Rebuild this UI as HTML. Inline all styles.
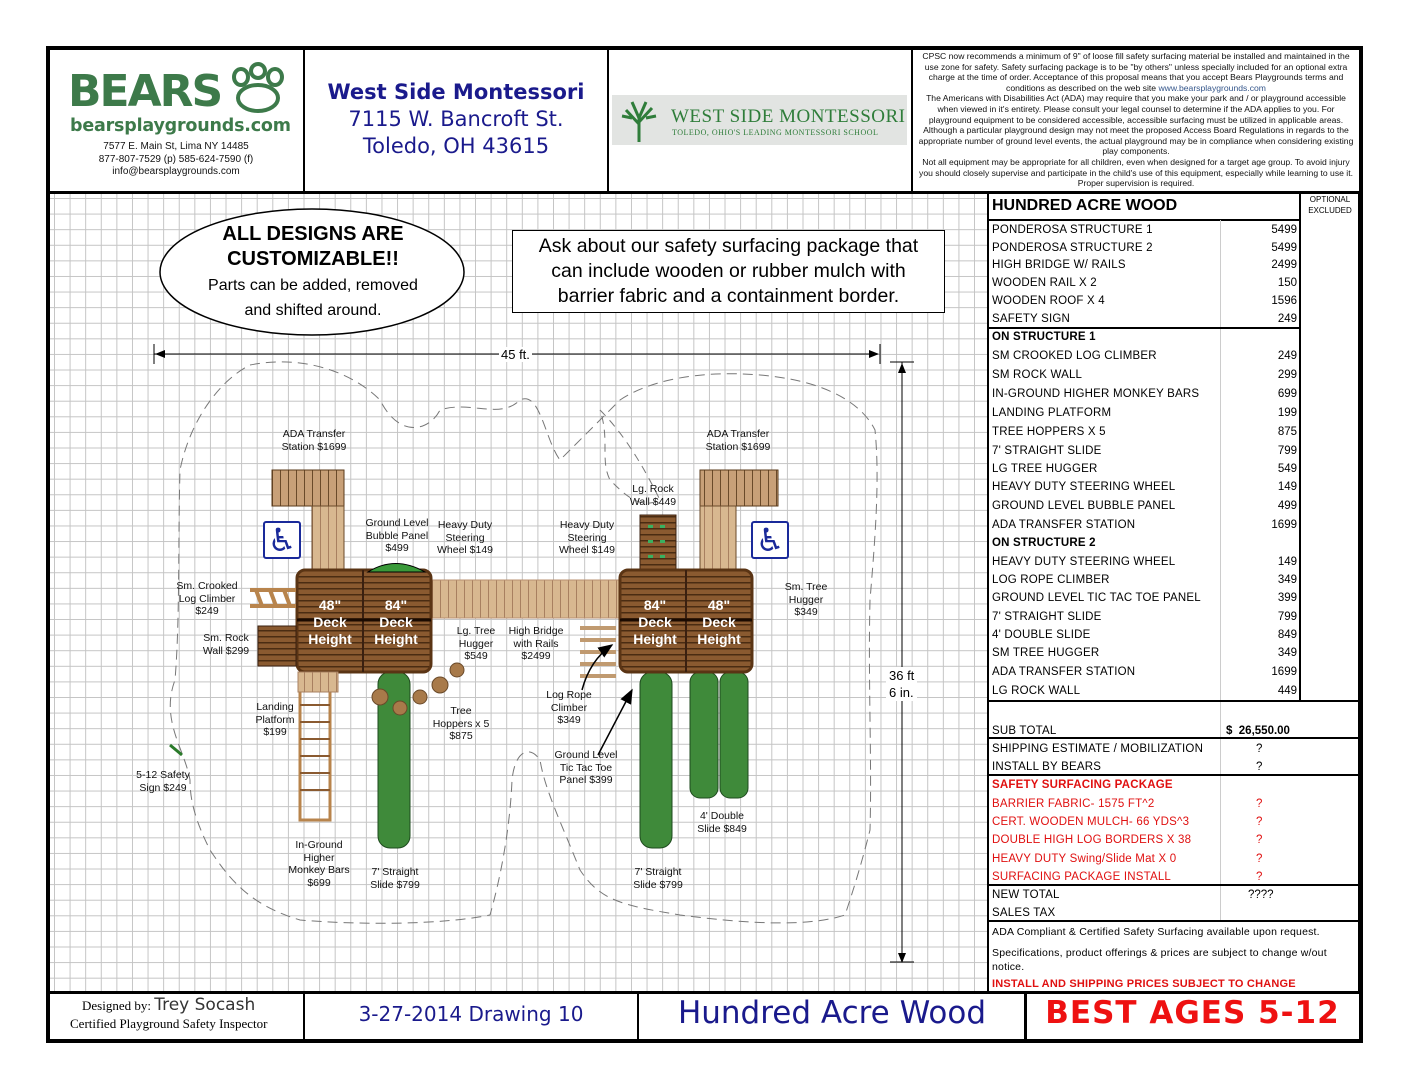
<!DOCTYPE html>
<html><head><meta charset="utf-8">
<style>
*{margin:0;padding:0;box-sizing:border-box}
body{width:1408px;height:1088px;background:#fff;position:relative;overflow:hidden;font-family:"Liberation Sans",sans-serif}
.a{position:absolute;white-space:nowrap}
.grid{position:absolute;left:50px;top:194px;width:938px;height:798px;
background-image:linear-gradient(to right,#c4c4c4 1px,transparent 1px),linear-gradient(to bottom,#c4c4c4 1px,transparent 1px);
background-size:15.6px 15.6px;background-position:4px 4px}
.ln{position:absolute;background:#000}
.lbl{position:absolute;font-size:10.5px;line-height:12.5px;text-align:center;color:#111;white-space:nowrap;transform:translateX(-50%)}
.tr{position:absolute;left:992px;font-size:11.5px;letter-spacing:.2px;color:#000;white-space:nowrap;margin-top:2px}
.tn{position:absolute;right:111px;font-size:11.5px;text-align:right;margin-top:2px}
.q{position:absolute;left:1256px;font-size:11.5px;margin-top:2px}
.red{color:#e01010}
.cs{font-family:"Comic Sans MS","DejaVu Sans",sans-serif}
</style></head><body>
<div class="grid"></div>
<div class="a" style="left:988px;top:194px;width:372px;height:798px;background:#fff"></div>
<div class="a" style="left:46px;top:46px;width:1317px;height:997px;border:4px solid #000"></div>
<div class="ln" style="left:48px;top:191px;width:1313px;height:3px"></div>
<div class="ln" style="left:303px;top:48px;width:2px;height:144px"></div>
<div class="ln" style="left:607px;top:48px;width:2px;height:144px"></div>
<div class="ln" style="left:911px;top:48px;width:2px;height:144px"></div>
<div class="ln" style="left:48px;top:991px;width:1313px;height:3px"></div>
<div class="ln" style="left:303px;top:992px;width:2px;height:48px"></div>
<div class="ln" style="left:637px;top:992px;width:2px;height:48px"></div>
<div class="ln" style="left:1024px;top:992px;width:3px;height:48px"></div>
<div class="ln" style="left:987px;top:192px;width:2px;height:800px"></div>

<!-- header -->
<div class="a" style="left:68px;top:64px;font-family:'DejaVu Sans',sans-serif;font-weight:bold;font-size:44px;color:#3d7a4a;letter-spacing:-2px;line-height:56px">BEARS</div>
<svg class="a" style="left:228px;top:62px" width="60" height="54" viewBox="0 0 60 54"><g fill="none" stroke="#3d7a4a" stroke-width="4"><ellipse cx="30" cy="36" rx="20" ry="13"/><ellipse cx="13" cy="15" rx="7" ry="8"/><ellipse cx="30" cy="9" rx="7" ry="7"/><ellipse cx="47" cy="15" rx="7" ry="8"/></g></svg>
<div class="a" style="left:70px;top:116px;font-weight:bold;font-size:17.5px;color:#3d7a4a;font-family:'DejaVu Sans',sans-serif;letter-spacing:-0.2px">bearsplaygrounds.com</div>
<div class="a" style="left:50px;width:252px;top:141px;font-size:10px;line-height:12.5px;text-align:center;color:#111">7577 E. Main St, Lima NY 14485<br>877-807-7529 (p) 585-624-7590 (f)<br>info@bearsplaygrounds.com</div>
<div class="a cs" style="left:305px;width:302px;top:79px;text-align:center;color:#1a1a8c;font-size:21px;line-height:27px"><b>West Side Montessori</b><br>7115 W. Bancroft St.<br>Toledo, OH 43615</div>
<div class="a" style="left:612px;top:95px;width:295px;height:50px;background:#e2e4e2"></div>
<svg class="a" style="left:614px;top:96px" width="50" height="48"><g stroke="#2f7d3a" stroke-width="3" fill="none"><path d="M25 46 V20 M25 28 L12 14 M25 26 L38 12 M25 22 L18 6 M25 22 L32 6 M8 20 L18 22 M42 20 L32 22"/></g></svg>
<div class="a" style="left:671px;top:106px;font-family:'Liberation Serif',serif;font-size:19px;color:#2f7d3a;letter-spacing:.5px">WEST SIDE MONTESSORI</div>
<div class="a" style="left:672px;top:128px;font-family:'Liberation Serif',serif;font-size:8px;color:#2f7d3a;letter-spacing:.5px">TOLEDO, OHIO'S LEADING MONTESSORI SCHOOL</div>
<div class="a" style="left:918px;width:436px;top:51px;font-size:8.6px;line-height:10.6px;text-align:center;white-space:normal;color:#111">CPSC now recommends a minimum of 9" of loose fill safety surfacing material be installed and maintained in the use zone for safety. Safety surfacing package is to be "by others" unless specially included for an optional extra charge at the time of order. Acceptance of this proposal means that you accept Bears Playgrounds terms and conditions as described on the web site <span style="color:#33558a">www.bearsplaygrounds.com</span><br>The Americans with Disabilities Act (ADA) may require that you make your park and / or playground accessible when viewed in it's entirety. Please consult your legal counsel to determine if the ADA applies to you. For playground equipment to be considered accessible, accessible surfacing must be utilized in applicable areas. Although a particular playground design may not meet the proposed Access Board Regulations in regards to the appropriate number of ground level events, the actual playground may be in compliance when considering existing play components.<br>Not all equipment may be appropriate for all children, even when designed for a target age group. To avoid injury you should closely supervise and participate in the child's use of this equipment, especially while learning to use it. Proper supervision is required.</div>

<!-- drawing -->
<svg class="a" style="left:0;top:0" width="988" height="992">
<defs>
<pattern id="dk" width="6" height="6" patternUnits="userSpaceOnUse"><rect width="6" height="6" fill="#8a5a30"/><rect width="6" height="1.5" fill="#4a2c12"/></pattern>
<pattern id="lt" width="8" height="8" patternUnits="userSpaceOnUse"><rect width="8" height="8" fill="#d8b890"/><rect width="1" height="8" fill="#a88060"/></pattern>
<pattern id="rf" width="8" height="8" patternUnits="userSpaceOnUse"><rect width="8" height="8" fill="#c8a078"/><rect width="1" height="8" fill="#6a4a2a"/></pattern>
<marker id="ar" markerWidth="10" markerHeight="8" refX="9" refY="4" orient="auto"><path d="M0,0 L10,4 L0,8 z" fill="#000"/></marker>
</defs>
<path d="M250,365 C300,355 350,370 380,400 C400,440 430,430 440,410 C470,400 500,420 520,400 C540,390 545,440 560,460 C580,440 600,420 620,400 C650,380 700,370 760,375 C820,380 860,400 875,430 C880,480 875,540 870,600 C868,680 872,760 870,830 C860,870 850,900 845,915 C800,930 720,920 680,915 C620,905 600,900 580,870 C560,820 545,790 540,760 C530,745 515,750 512,780 C510,830 500,880 490,915 C440,925 360,925 300,920 C250,905 230,880 210,850 C195,820 190,800 190,780 C185,750 160,720 175,680 C180,620 178,540 180,470 C190,420 220,380 250,365 Z" fill="none" stroke="#777" stroke-width="1" stroke-dasharray="10,6"/>
<path d="M600,410 C630,440 650,480 660,500 C640,510 625,495 610,480 C600,460 610,440 600,410" fill="none" stroke="#777" stroke-dasharray="8,6"/>
<line x1="154" y1="354" x2="878" y2="354" stroke="#000" stroke-width="1" marker-end="url(#ar)"/>
<line x1="878" y1="354" x2="156" y2="354" stroke="#000" stroke-width="1" marker-end="url(#ar)"/>
<line x1="154" y1="344" x2="154" y2="364" stroke="#000"/><line x1="880" y1="344" x2="880" y2="364" stroke="#000"/>
<line x1="902" y1="362" x2="902" y2="962" stroke="#000" marker-end="url(#ar)"/>
<line x1="902" y1="962" x2="902" y2="364" stroke="#000" marker-end="url(#ar)"/>
<line x1="890" y1="362" x2="914" y2="362" stroke="#000"/><line x1="890" y1="962" x2="914" y2="962" stroke="#000"/>
<rect x="272" y="470" width="72" height="36" fill="url(#rf)" stroke="#5a3a1a"/>
<rect x="312" y="506" width="32" height="64" fill="url(#lt)" stroke="#6a4a2a"/>
<rect x="700" y="470" width="78" height="36" fill="url(#rf)" stroke="#5a3a1a"/>
<rect x="700" y="506" width="36" height="64" fill="url(#lt)" stroke="#6a4a2a"/>
<rect x="640" y="515" width="36" height="56" fill="url(#dk)" stroke="#3a2010"/>
<g fill="#3ab060"><rect x="648" y="525" width="5" height="3"/><rect x="660" y="525" width="5" height="3"/><rect x="648" y="540" width="5" height="3"/><rect x="660" y="540" width="5" height="3"/><rect x="648" y="555" width="5" height="3"/><rect x="660" y="555" width="5" height="3"/></g>
<rect x="378" y="672" width="32" height="176" rx="12" fill="#3f8a3a" stroke="#1e4a1e"/>
<rect x="640" y="672" width="32" height="176" rx="12" fill="#3f8a3a" stroke="#1e4a1e"/>
<rect x="690" y="672" width="28" height="126" rx="10" fill="#3f8a3a" stroke="#1e4a1e"/>
<rect x="720" y="672" width="28" height="126" rx="10" fill="#3f8a3a" stroke="#1e4a1e"/>
<rect x="430" y="580" width="192" height="38" fill="url(#lt)" stroke="#b89070"/>
<rect x="297" y="570" width="134" height="102" rx="8" fill="url(#dk)" stroke="#5a3414" stroke-width="3"/>
<line x1="363" y1="570" x2="363" y2="672" stroke="#3a2010" stroke-width="2"/>
<line x1="297" y1="620" x2="431" y2="620" stroke="#1a0a00" stroke-width="3"/>
<rect x="620" y="570" width="132" height="102" rx="8" fill="url(#dk)" stroke="#5a3414" stroke-width="3"/>
<line x1="686" y1="570" x2="686" y2="672" stroke="#3a2010" stroke-width="2"/>
<line x1="620" y1="620" x2="752" y2="620" stroke="#1a0a00" stroke-width="3"/>
<path d="M368,572 Q395,555 425,572 Z" fill="#3a9a3a" stroke="#000"/>
<rect x="258" y="626" width="38" height="40" fill="url(#dk)" stroke="#3a2010"/>
<path d="M250,590 L296,590 M250,606 L296,606 M256,590 L262,606 M270,590 L276,606 M284,590 L290,606" stroke="#b8844c" stroke-width="4" fill="none"/>
<g stroke="#c09a70" stroke-width="4"><line x1="580" y1="628" x2="616" y2="628"/><line x1="580" y1="640" x2="616" y2="640"/><line x1="580" y1="652" x2="616" y2="652"/><line x1="580" y1="664" x2="616" y2="664"/><line x1="580" y1="676" x2="616" y2="676"/></g>
<rect x="300" y="690" width="30" height="130" fill="none" stroke="#b8844c" stroke-width="3"/>
<g stroke="#8a5a30" stroke-width="2"><line x1="300" y1="705" x2="330" y2="705"/><line x1="300" y1="722" x2="330" y2="722"/><line x1="300" y1="739" x2="330" y2="739"/><line x1="300" y1="756" x2="330" y2="756"/><line x1="300" y1="773" x2="330" y2="773"/><line x1="300" y1="790" x2="330" y2="790"/></g>
<rect x="298" y="672" width="40" height="20" fill="url(#lt)" stroke="#a88060"/>
<g fill="#a87a4a" stroke="#6a4a2a"><circle cx="380" cy="697" r="8"/><circle cx="420" cy="697" r="7"/><circle cx="440" cy="685" r="8"/><circle cx="457" cy="670" r="7"/><circle cx="400" cy="708" r="7"/></g>
<path d="M582,690 Q590,660 612,645" fill="none" stroke="#000" stroke-width="1.5" marker-end="url(#ar)"/>
<path d="M598,755 L632,690" fill="none" stroke="#000" stroke-width="1.5" marker-end="url(#ar)"/>
<line x1="170" y1="745" x2="182" y2="755" stroke="#2a7a2a" stroke-width="3"/>
</svg>
<div class="a" style="left:263px;top:521px;width:38px;height:38px;border:2px solid #1a2a9a;border-radius:3px;background:#fff;color:#1a2a9a;font-size:32px;line-height:34px;text-align:center;font-family:'DejaVu Sans',sans-serif">♿</div>
<div class="a" style="left:751px;top:521px;width:38px;height:38px;border:2px solid #1a2a9a;border-radius:3px;background:#fff;color:#1a2a9a;font-size:32px;line-height:34px;text-align:center;font-family:'DejaVu Sans',sans-serif">♿</div>
<div class="a" style="left:297px;width:66px;top:597px;text-align:center;color:#fff;font-weight:bold;font-size:14px;line-height:17px">48"<br>Deck<br>Height</div>
<div class="a" style="left:363px;width:66px;top:597px;text-align:center;color:#fff;font-weight:bold;font-size:14px;line-height:17px">84"<br>Deck<br>Height</div>
<div class="a" style="left:622px;width:66px;top:597px;text-align:center;color:#fff;font-weight:bold;font-size:14px;line-height:17px">84"<br>Deck<br>Height</div>
<div class="a" style="left:686px;width:66px;top:597px;text-align:center;color:#fff;font-weight:bold;font-size:14px;line-height:17px">48"<br>Deck<br>Height</div>

<svg class="a" style="left:158px;top:207px" width="310" height="132"><ellipse cx="154" cy="65" rx="152" ry="63" fill="#fff" stroke="#000" stroke-width="1.5"/></svg>
<div class="a" style="left:160px;width:306px;top:222px;text-align:center;font-size:20px;line-height:25px;font-weight:bold">ALL DESIGNS ARE<br>CUSTOMIZABLE!!</div>
<div class="a" style="left:160px;width:306px;top:273px;text-align:center;font-size:16px;line-height:25px">Parts can be added, removed<br>and shifted around.</div>
<div class="a" style="left:512px;top:230px;width:433px;height:83px;border:1.5px solid #000;background:#fff;text-align:center;font-size:19.5px;line-height:25px;padding-top:3px">Ask about our safety surfacing package that<br>can include wooden or rubber mulch with<br>barrier fabric and a containment border.</div>
<div class="a" style="left:499px;top:347px;background:#fff;font-size:13px;padding:0 2px">45 ft.</div>
<div class="a" style="left:886px;top:667px;background:#fff;font-size:13px;line-height:17px;padding:0 3px">36 ft<br>6 in.</div>

<div class="lbl" style="left:314px;top:428px">ADA Transfer<br>Station $1699</div>
<div class="lbl" style="left:738px;top:428px">ADA Transfer<br>Station $1699</div>
<div class="lbl" style="left:653px;top:483px">Lg. Rock<br>Wall $449</div>
<div class="lbl" style="left:397px;top:517px">Ground Level<br>Bubble Panel<br>$499</div>
<div class="lbl" style="left:465px;top:519px">Heavy Duty<br>Steering<br>Wheel $149</div>
<div class="lbl" style="left:587px;top:519px">Heavy Duty<br>Steering<br>Wheel $149</div>
<div class="lbl" style="left:207px;top:580px">Sm. Crooked<br>Log Climber<br>$249</div>
<div class="lbl" style="left:806px;top:581px">Sm. Tree<br>Hugger<br>$349</div>
<div class="lbl" style="left:226px;top:632px">Sm. Rock<br>Wall $299</div>
<div class="lbl" style="left:476px;top:625px">Lg. Tree<br>Hugger<br>$549</div>
<div class="lbl" style="left:536px;top:625px">High Bridge<br>with Rails<br>$2499</div>
<div class="lbl" style="left:569px;top:689px">Log Rope<br>Climber<br>$349</div>
<div class="lbl" style="left:275px;top:701px">Landing<br>Platform<br>$199</div>
<div class="lbl" style="left:461px;top:705px">Tree<br>Hoppers x 5<br>$875</div>
<div class="lbl" style="left:586px;top:749px">Ground Level<br>Tic Tac Toe<br>Panel $399</div>
<div class="lbl" style="left:163px;top:769px">5-12 Safety<br>Sign $249</div>
<div class="lbl" style="left:722px;top:810px">4' Double<br>Slide $849</div>
<div class="lbl" style="left:319px;top:839px">In-Ground<br>Higher<br>Monkey Bars<br>$699</div>
<div class="lbl" style="left:395px;top:866px">7' Straight<br>Slide $799</div>
<div class="lbl" style="left:658px;top:866px">7' Straight<br>Slide $799</div>

<div class="ln" style="left:988px;top:219px;width:312px;height:2px"></div>
<div class="ln" style="left:1299px;top:192px;width:2px;height:510px"></div>
<div class="ln" style="left:1358px;top:192px;width:2px;height:800px"></div>
<div class="a" style="left:1220px;top:220px;width:1px;height:556px;background:#ccc"></div>
<div class="a" style="left:1220px;top:776px;width:1px;height:146px;background:#ccc"></div>
<div class="ln" style="left:988px;top:327px;width:312px;height:2px"></div>
<div class="ln" style="left:988px;top:700px;width:372px;height:2px"></div>
<div class="ln" style="left:988px;top:737px;width:372px;height:2px"></div>
<div class="ln" style="left:988px;top:774px;width:372px;height:2px"></div>
<div class="ln" style="left:988px;top:884px;width:372px;height:2px"></div>
<div class="ln" style="left:988px;top:920px;width:372px;height:2px"></div>
<div class="a" style="left:992px;top:197px;font-size:16px;font-weight:bold">HUNDRED ACRE WOOD</div>
<div class="a" style="left:1302px;width:56px;top:194px;font-size:8px;line-height:11px;text-align:center">OPTIONAL<br>EXCLUDED</div>

<div class="tr" style="top:222px">PONDEROSA STRUCTURE 1</div><div class="tn" style="top:222px">5499</div>
<div class="tr" style="top:240px">PONDEROSA STRUCTURE 2</div><div class="tn" style="top:240px">5499</div>
<div class="tr" style="top:257px">HIGH BRIDGE W/ RAILS</div><div class="tn" style="top:257px">2499</div>
<div class="tr" style="top:275px">WOODEN RAIL X 2</div><div class="tn" style="top:275px">150</div>
<div class="tr" style="top:293px">WOODEN ROOF X 4</div><div class="tn" style="top:293px">1596</div>
<div class="tr" style="top:311px">SAFETY SIGN</div><div class="tn" style="top:311px">249</div>
<div class="tr" style="top:329px;font-weight:bold">ON STRUCTURE 1</div>
<div class="tr" style="top:348px">SM CROOKED LOG CLIMBER</div><div class="tn" style="top:348px">249</div>
<div class="tr" style="top:367px">SM ROCK WALL</div><div class="tn" style="top:367px">299</div>
<div class="tr" style="top:386px">IN-GROUND HIGHER MONKEY BARS</div><div class="tn" style="top:386px">699</div>
<div class="tr" style="top:405px">LANDING PLATFORM</div><div class="tn" style="top:405px">199</div>
<div class="tr" style="top:424px">TREE HOPPERS X 5</div><div class="tn" style="top:424px">875</div>
<div class="tr" style="top:443px">7' STRAIGHT SLIDE</div><div class="tn" style="top:443px">799</div>
<div class="tr" style="top:461px">LG TREE HUGGER</div><div class="tn" style="top:461px">549</div>
<div class="tr" style="top:479px">HEAVY DUTY STEERING WHEEL</div><div class="tn" style="top:479px">149</div>
<div class="tr" style="top:498px">GROUND LEVEL BUBBLE PANEL</div><div class="tn" style="top:498px">499</div>
<div class="tr" style="top:517px">ADA TRANSFER STATION</div><div class="tn" style="top:517px">1699</div>
<div class="tr" style="top:535px;font-weight:bold">ON STRUCTURE 2</div>
<div class="tr" style="top:554px">HEAVY DUTY STEERING WHEEL</div><div class="tn" style="top:554px">149</div>
<div class="tr" style="top:572px">LOG ROPE CLIMBER</div><div class="tn" style="top:572px">349</div>
<div class="tr" style="top:590px">GROUND LEVEL TIC TAC TOE PANEL</div><div class="tn" style="top:590px">399</div>
<div class="tr" style="top:609px">7' STRAIGHT SLIDE</div><div class="tn" style="top:609px">799</div>
<div class="tr" style="top:627px">4' DOUBLE SLIDE</div><div class="tn" style="top:627px">849</div>
<div class="tr" style="top:645px">SM TREE HUGGER</div><div class="tn" style="top:645px">349</div>
<div class="tr" style="top:664px">ADA TRANSFER STATION</div><div class="tn" style="top:664px">1699</div>
<div class="tr" style="top:683px">LG ROCK WALL</div><div class="tn" style="top:683px">449</div>
<div class="tr" style="top:723px">SUB TOTAL</div><div class="a" style="left:1226px;top:725px;font-size:11.5px;font-weight:bold">$&nbsp; 26,550.00</div>
<div class="tr" style="top:741px">SHIPPING ESTIMATE / MOBILIZATION</div><div class="q" style="top:741px">?</div>
<div class="tr" style="top:759px">INSTALL BY BEARS</div><div class="q" style="top:759px">?</div>
<div class="tr red" style="top:777px;font-weight:bold">SAFETY SURFACING PACKAGE</div>
<div class="tr red" style="top:796px">BARRIER FABRIC- 1575 FT^2</div><div class="q red" style="top:796px">?</div>
<div class="tr red" style="top:814px">CERT. WOODEN MULCH- 66 YDS^3</div><div class="q red" style="top:814px">?</div>
<div class="tr red" style="top:832px">DOUBLE HIGH LOG BORDERS X 38</div><div class="q red" style="top:832px">?</div>
<div class="tr red" style="top:851px">HEAVY DUTY Swing/Slide Mat X 0</div><div class="q red" style="top:851px">?</div>
<div class="tr red" style="top:869px">SURFACING PACKAGE INSTALL</div><div class="q red" style="top:869px">?</div>
<div class="tr" style="top:887px">NEW TOTAL</div><div class="a" style="left:1248px;top:889px;font-size:11.5px">????</div>
<div class="tr" style="top:905px">SALES TAX</div>
<div class="tr" style="top:924px;font-size:10.5px">ADA Compliant &amp; Certified Safety Surfacing available upon request.</div>
<div class="tr" style="top:944px;font-size:10.5px;line-height:14px;white-space:normal;width:364px">Specifications, product offerings &amp; prices are subject to change w/out notice.</div>
<div class="tr red" style="top:976px;font-size:11px;font-weight:bold">INSTALL AND SHIPPING PRICES SUBJECT TO CHANGE</div>

<div class="a" style="left:82px;top:995px;font-family:'Liberation Serif',serif;font-size:13px">Designed by: <span class="cs" style="font-size:17px;color:#333">Trey Socash</span></div>
<div class="a" style="left:70px;top:1016px;font-family:'Liberation Serif',serif;font-size:13px">Certified Playground Safety Inspector</div>
<div class="a cs" style="left:305px;width:332px;top:1002px;text-align:center;font-size:20px;color:#1a1a8c">3-27-2014 Drawing 10</div>
<div class="a cs" style="left:639px;width:386px;top:995px;text-align:center;font-size:31px;color:#1a1a8c">Hundred Acre Wood</div>
<div class="a cs" style="left:1027px;width:331px;top:995px;text-align:center;font-size:31px;font-weight:bold;color:#ee1111;letter-spacing:1px">BEST AGES 5-12</div>
</body></html>
